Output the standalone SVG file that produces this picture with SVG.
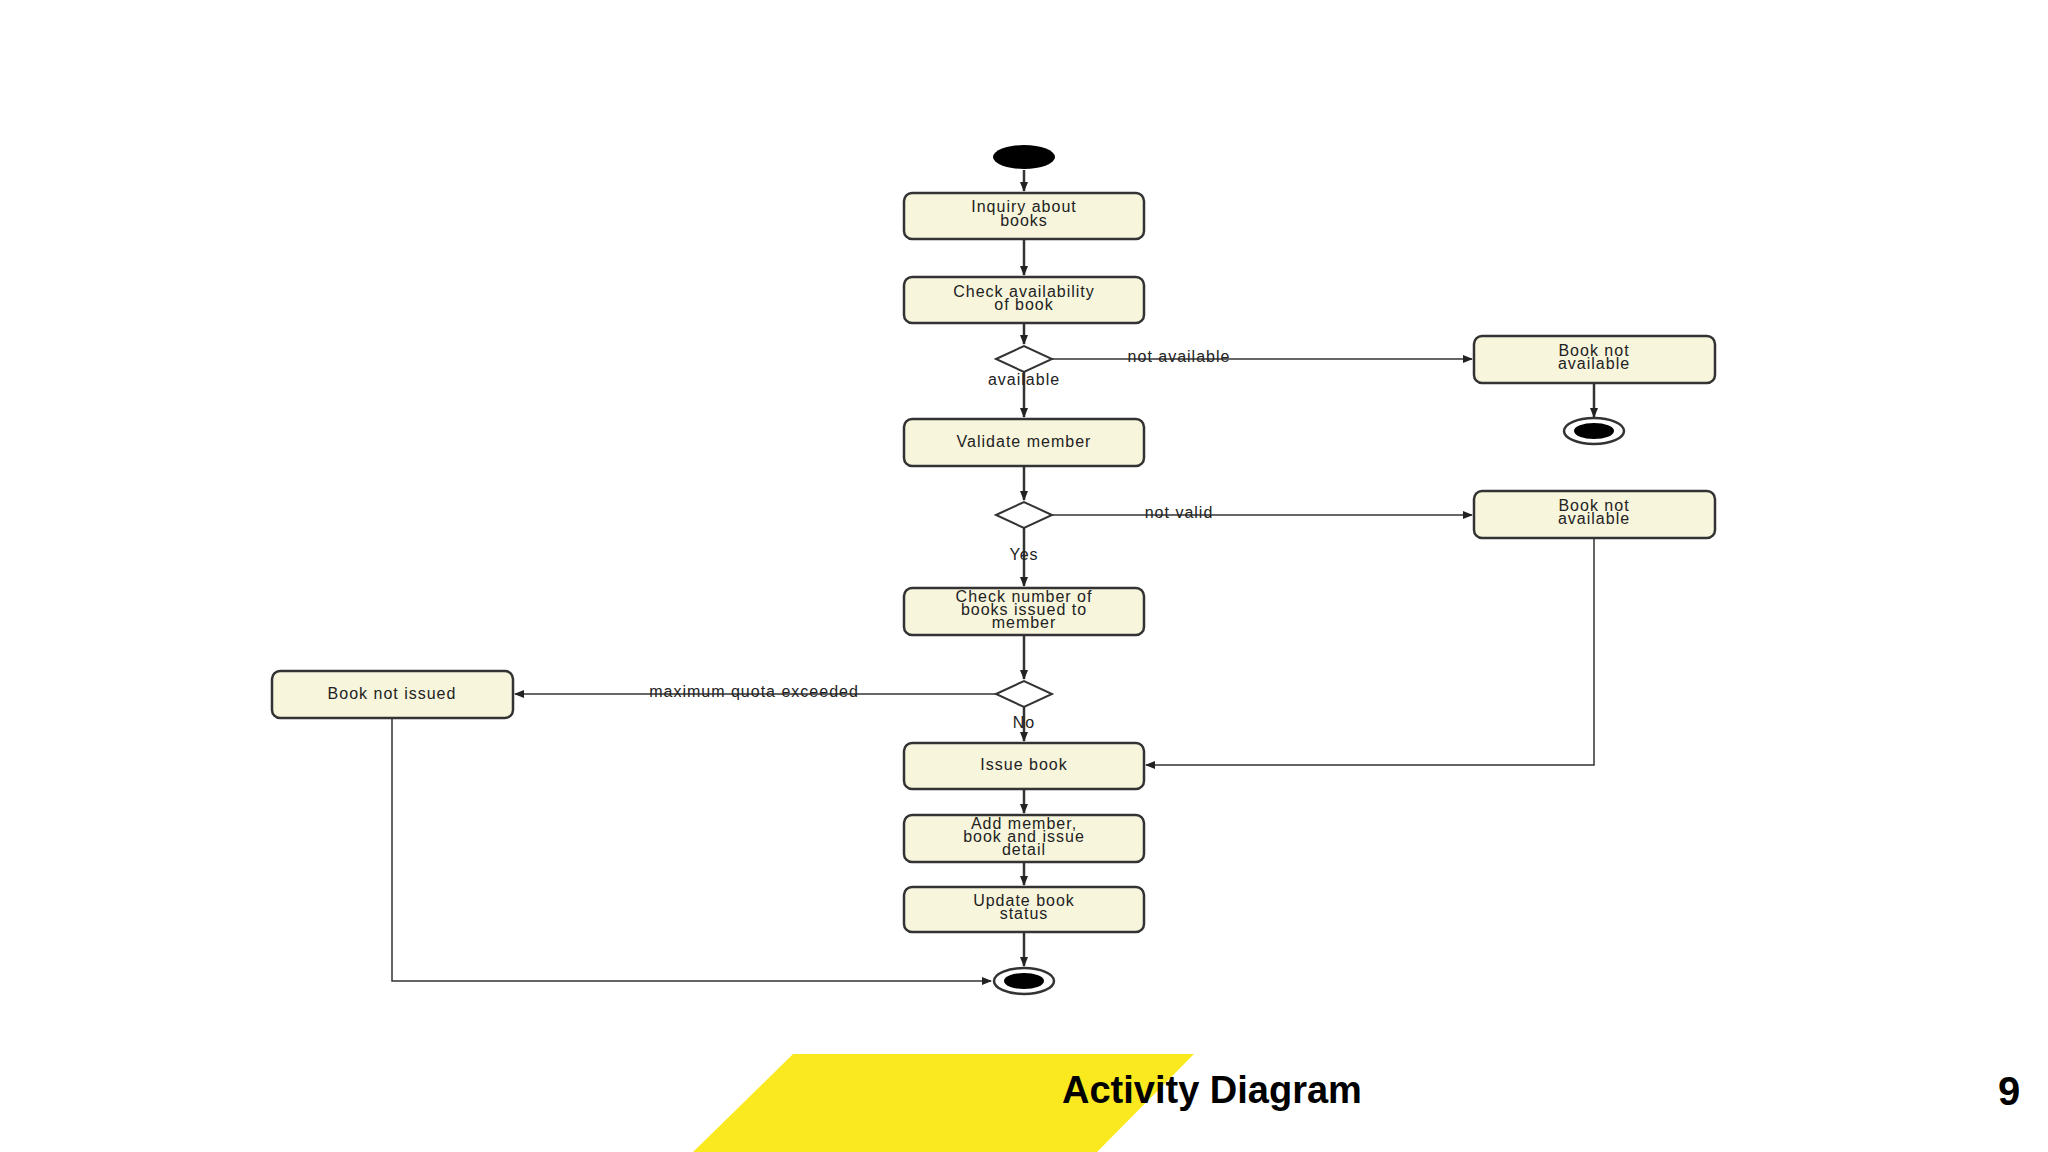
<svg xmlns="http://www.w3.org/2000/svg" width="2048" height="1152" viewBox="0 0 2048 1152">
<style>
.n rect{fill:#f7f5dc;stroke:#333;stroke-width:2.5}
.t{font-family:"Liberation Sans",Arial,sans-serif;font-size:16px;text-anchor:middle;fill:#222;letter-spacing:1px}
.c path,.c line{stroke:#333;stroke-width:2.5;fill:none}
.c .thin{stroke-width:1.5}
.d{fill:#fff;stroke:#333;stroke-width:2}
</style>
<defs><marker id="a" markerWidth="10" markerHeight="8" refX="9" refY="4" orient="auto" markerUnits="userSpaceOnUse"><path d="M0,0L10,4L0,8z" fill="#222"/></marker></defs>
<rect width="2048" height="1152" fill="#fff"/>
<g class="c">
<path d="M1024,170V191" marker-end="url(#a)"/>
<path d="M1024,239V275" marker-end="url(#a)"/>
<path d="M1024,323V344" marker-end="url(#a)"/>
<path class="thin" d="M1052,359H1472" marker-end="url(#a)"/>
<path d="M1594,383V417" marker-end="url(#a)"/>
<path d="M1024,372V417" marker-end="url(#a)"/>
<path d="M1024,466V500" marker-end="url(#a)"/>
<path class="thin" d="M1052,515H1472" marker-end="url(#a)"/>
<path d="M1024,528V586" marker-end="url(#a)"/>
<path d="M1024,635V679" marker-end="url(#a)"/>
<path class="thin" d="M996,694H515" marker-end="url(#a)"/>
<path d="M1024,707V741" marker-end="url(#a)"/>
<path class="thin" d="M1594,538V765H1146" marker-end="url(#a)"/>
<path d="M1024,789V813" marker-end="url(#a)"/>
<path d="M1024,862V885" marker-end="url(#a)"/>
<path d="M1024,932V966" marker-end="url(#a)"/>
<path class="thin" d="M392,718V981H991" marker-end="url(#a)"/>
</g>
<g id="start"><ellipse cx="1024" cy="157" rx="31" ry="12" fill="#000"/></g>
<g id="n1" class="n"><rect x="904" y="193" width="240" height="46" rx="8"/><text class="t" x="1024" y="212">Inquiry about</text><text class="t" x="1024" y="226">books</text></g>
<g id="n2" class="n"><rect x="904" y="277" width="240" height="46" rx="8"/><text class="t" x="1024" y="297">Check availability</text><text class="t" x="1024" y="310">of book</text></g>
<g id="d1"><path class="d" d="M996,359L1024,346L1052,359L1024,372z"/></g>
<g id="n3" class="n"><rect x="1474" y="336" width="241" height="47" rx="8"/><text class="t" x="1594" y="356">Book not</text><text class="t" x="1594" y="369">available</text></g>
<g id="end1"><ellipse cx="1594" cy="431" rx="30" ry="13" fill="#fff" stroke="#333" stroke-width="2.5"/><ellipse cx="1594" cy="431" rx="20" ry="8" fill="#000"/></g>
<g id="n4" class="n"><rect x="904" y="419" width="240" height="47" rx="8"/><text class="t" x="1024" y="447">Validate member</text></g>
<g id="d2"><path class="d" d="M996,515L1024,502L1052,515L1024,528z"/></g>
<g id="n5" class="n"><rect x="1474" y="491" width="241" height="47" rx="8"/><text class="t" x="1594" y="511">Book not</text><text class="t" x="1594" y="524">available</text></g>
<g id="n6" class="n"><rect x="904" y="588" width="240" height="47" rx="8"/><text class="t" x="1024" y="602">Check number of</text><text class="t" x="1024" y="615">books issued to</text><text class="t" x="1024" y="628">member</text></g>
<g id="d3"><path class="d" d="M996,694L1024,681L1052,694L1024,707z"/></g>
<g id="n7" class="n"><rect x="272" y="671" width="241" height="47" rx="8"/><text class="t" x="392" y="699">Book not issued</text></g>
<g id="n8" class="n"><rect x="904" y="743" width="240" height="46" rx="8"/><text class="t" x="1024" y="770">Issue book</text></g>
<g id="n9" class="n"><rect x="904" y="815" width="240" height="47" rx="8"/><text class="t" x="1024" y="829">Add member,</text><text class="t" x="1024" y="842">book and issue</text><text class="t" x="1024" y="855">detail</text></g>
<g id="n10" class="n"><rect x="904" y="887" width="240" height="45" rx="8"/><text class="t" x="1024" y="906">Update book</text><text class="t" x="1024" y="919">status</text></g>
<g id="end2"><ellipse cx="1024" cy="981" rx="30" ry="13" fill="#fff" stroke="#333" stroke-width="2.5"/><ellipse cx="1024" cy="981" rx="20" ry="8" fill="#000"/></g>
<g id="labels">
<text class="t" x="1179" y="362" style="fill:#222">not available</text>
<text class="t" x="1024" y="385">available</text>
<text class="t" x="1179" y="518">not valid</text>
<text class="t" x="1024" y="560">Yes</text>
<text class="t" x="754" y="697">maximum quota exceeded</text>
<text class="t" x="1024" y="728">No</text>
</g>
<g id="footer">
<path d="M793,1054H1194L1097,1152H693z" fill="#fbe920"/>
<text x="1062" y="1103" font-family="Liberation Sans,Arial,sans-serif" font-weight="bold" font-size="38" fill="#000">Activity Diagram</text>
<text x="2009" y="1105" font-family="Liberation Sans,Arial,sans-serif" font-weight="bold" font-size="40" fill="#000" text-anchor="middle">9</text>
</g>
</svg>
